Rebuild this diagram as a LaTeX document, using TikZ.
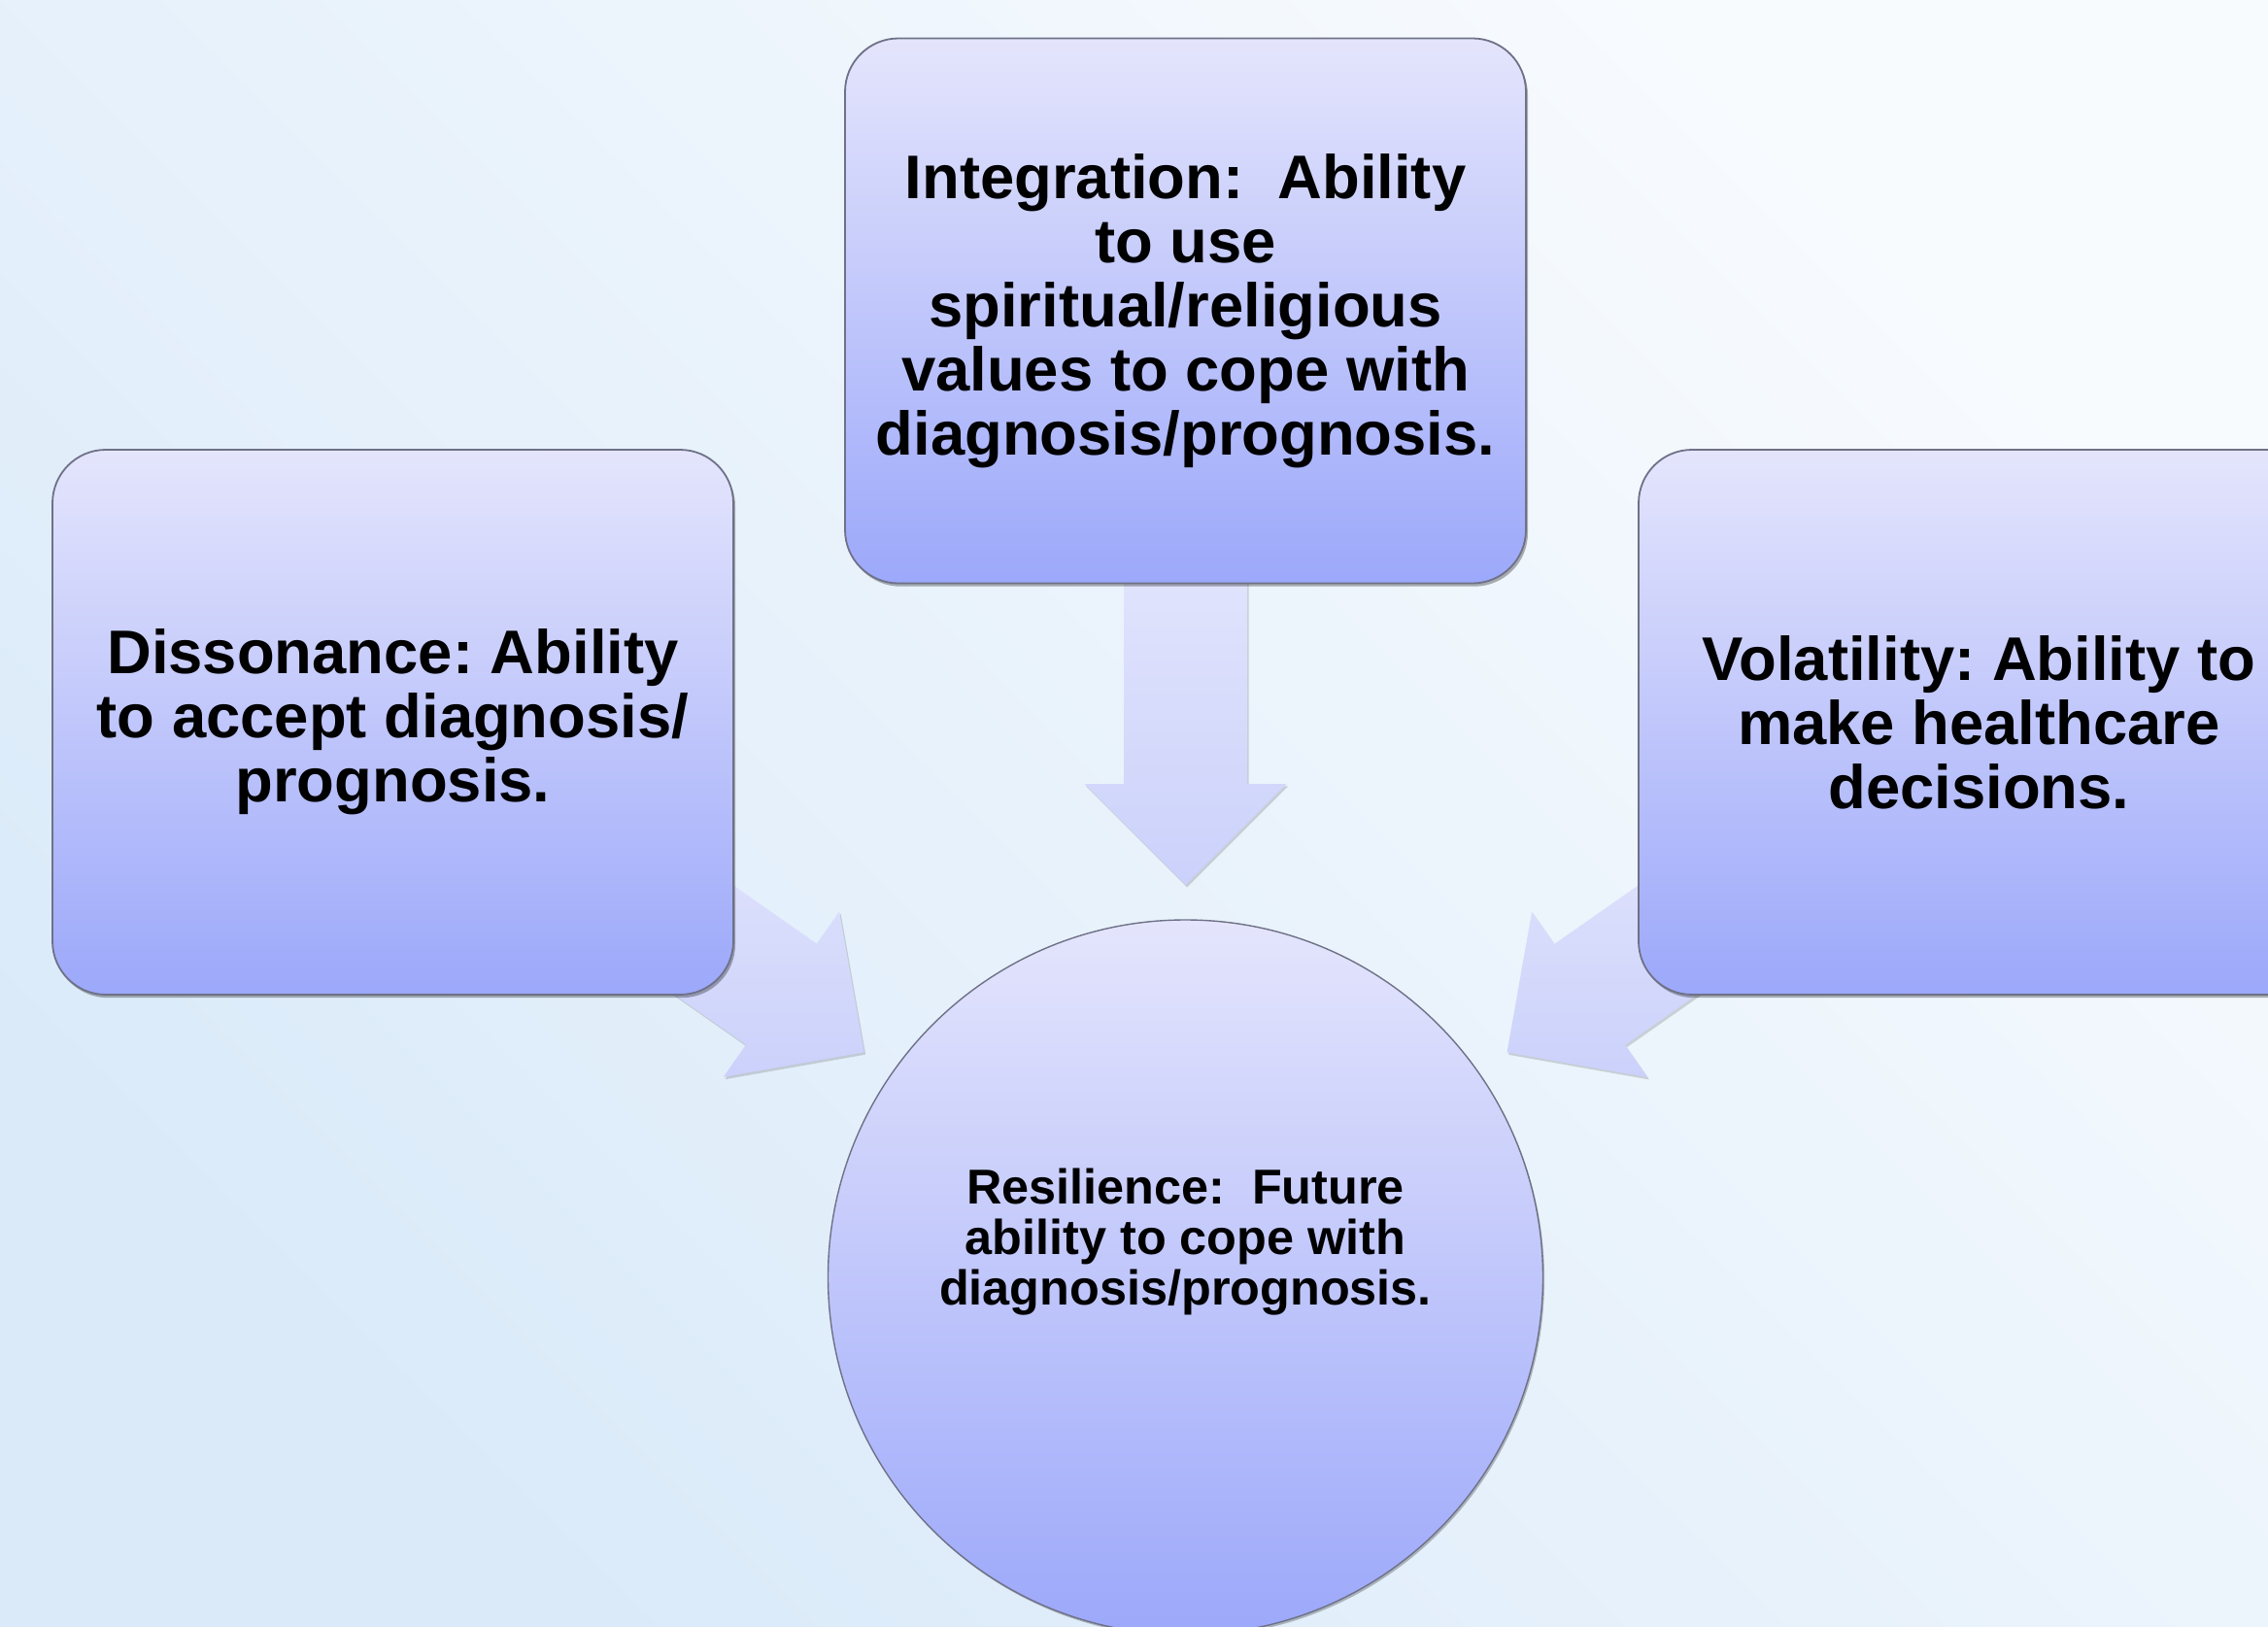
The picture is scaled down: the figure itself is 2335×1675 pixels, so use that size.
\documentclass[tikz,border=0pt]{standalone}
\usepackage{fontspec}
\setmainfont{Liberation Sans}
\usetikzlibrary{calc,shadows}
\frenchspacing
\pgfdeclarelayer{bglayer}
\pgfdeclarelayer{arrowlayer}
\pgfsetlayers{bglayer,arrowlayer,main}
\definecolor{bgA}{HTML}{F8FBFE}
\definecolor{bgB}{HTML}{DAEAF9}
\definecolor{boxtop}{HTML}{E4E5FC}
\definecolor{boxbot}{HTML}{9CA8FA}
\definecolor{arrtop}{HTML}{E1E4FC}
\definecolor{arrbot}{HTML}{CBD1FB}
\definecolor{strokec}{HTML}{6E7187}
\tikzset{
  pbox/.style={draw=strokec, line width=0.9pt, rounded corners=27.5pt,
    minimum width=350.5pt, minimum height=280.5pt, inner sep=0pt,
    top color=boxtop, bottom color=boxbot, align=center,
    font=\fontsize{31.7}{33}\selectfont\bfseries,
    drop shadow={shadow xshift=1pt, shadow yshift=-1.6pt, opacity=0.3, fill=black}},
  pcircle/.style={circle, draw=strokec, line width=0.7pt, minimum size=368pt,
    inner sep=0pt, top color=boxtop, bottom color=boxbot,
    drop shadow={shadow xshift=0.8pt, shadow yshift=-1.2pt, opacity=0.25, fill=black}},
  ptext/.style={align=center, font=\fontsize{25.2}{26}\selectfont\bfseries},
  arrowfill/.style={top color=arrtop, bottom color=arrbot,
    drop shadow={shadow xshift=0.8pt, shadow yshift=-1.2pt, opacity=0.15, fill=black}}
}
\newcommand\blockarrow[2]{%
  \coordinate (st) at ($(#2.center)!365pt!(#1.center)$);
  \coordinate (tp) at ($(#2.center)!202pt!(#1.center)$);
  \coordinate (hb) at ($(#2.center)!254pt!(#1.center)$);
  \path[arrowfill] (tp) -- ($(hb)!52pt!90:(st)$) -- ($(hb)!31.75pt!90:(st)$)
    -- ($(st)!31.75pt!-90:(hb)$) -- ($(st)!31.75pt!90:(hb)$)
    -- ($(hb)!31.75pt!-90:(st)$) -- ($(hb)!52pt!-90:(st)$) -- cycle;
}
\begin{document}
\begin{tikzpicture}[x=0.5pt, y=-0.5pt]
\useasboundingbox (0,0) rectangle (2335,1675);
\begin{pgfonlayer}{bglayer}
  \shade[top color=bgA, bottom color=bgB, shading angle=-45] (0,0) rectangle (2335,1675);
\end{pgfonlayer}

\node[pbox] (ninteg) at (1220.5,320) {Integration:\ \ Ability\\to use\\spiritual/religious\\values to cope with\\diagnosis/prognosis.};
\node[pbox] (ndiss) at (404.5,743.5) {Dissonance: Ability\\to accept diagnosis/\\prognosis.};
\node[pbox] (nvol) at (2037.5,743.5) {Volatility: Ability to\\make healthcare\\decisions.};
\node[pcircle] (nres) at (1220.5,1315) {};
\node[ptext] (nrestext) at (1220.5,1279) {Resilience:\ \ Future\\ability to cope with\\diagnosis/prognosis.};

\begin{pgfonlayer}{arrowlayer}
  \blockarrow{ninteg}{nres}
  \blockarrow{ndiss}{nres}
  \blockarrow{nvol}{nres}
\end{pgfonlayer}
\end{tikzpicture}
\end{document}
